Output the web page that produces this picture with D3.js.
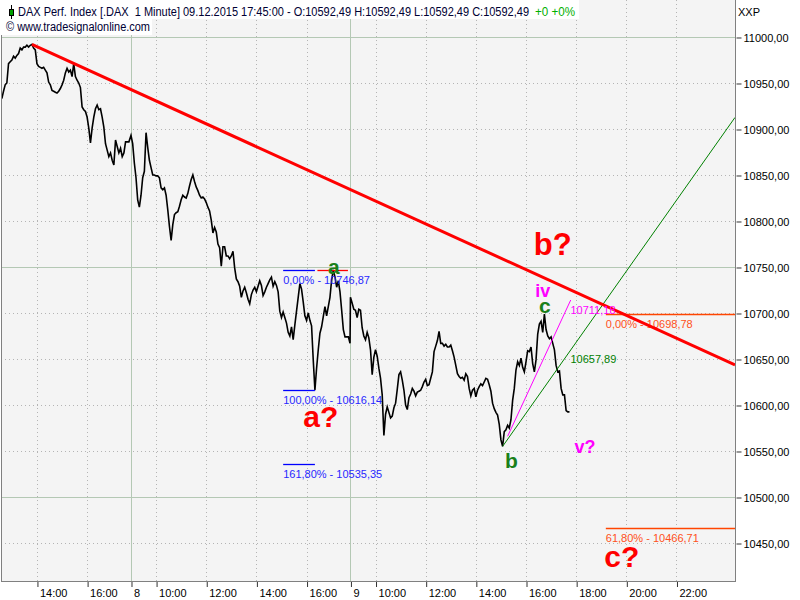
<!DOCTYPE html>
<html><head><meta charset="utf-8">
<script src="https://cdn.jsdelivr.net/npm/d3@7"></script>
<style>
body{margin:0;background:#fff}
svg{display:block}
text{font-family:"Liberation Sans",Arial,sans-serif}
</style>
</head><body><svg id="c" width="800" height="600"></svg>
<script>
// ---------- DATA ----------
const titleMain = "DAX Perf. Index [.DAX\u00a0\u00a01 Minute] 09.12.2015 17:45:00 - O:10592,49 H:10592,49 L:10592,49 C:10592,49";
const titleChange = "+0 +0%";
const copyright = "\u00a9 www.tradesignalonline.com";
const currencyLabel = "XXP";

const barMinutes = 4;
const day7Start = "07 12:36";
const day8Start = "08 09:00";
const day9Start = "09 09:00";
const day7Close = [10933,10941,10948,10950,10971,10973,10975,10979,10977,10980,10982,10988,10986,10989,10989,10991,10989,10991,10992,10988,10986,10971,10968,10967,10966,10967,10964,10961,10951,10948,10942,10941,10940,10939,10941,10944,10948,10953,10961,10966,10962,10964,10957,10971,10957,10953,10950,10945,10924,10921,10919,10913,10901,10885,10901,10913,10922,10926,10921,10922,10913,10902,10884,10877,10870,10874,10866,10861,10888,10881,10874,10879,10870,10874,10886,10886,10886];
const day8Close = [10893,10884,10863,10847,10823,10815,10828,10847,10854,10896,
10880,10866,10858,10850,10850,10849,10849,10847,10836,10834,
10836,10828,10812,10794,10779,10796,10807,10809,10810,10816,
10823,10828,10826,10825,10830,10838,10845,10850,10843,10837,
10833,10828,10825,10826,10824,10820,10815,10811,10801,10787,
10793,10788,10775,10771,10751,10772,10772,10762,10762,10759,
10762,10767,10749,10737,10734,10729,10717,10724,10728,10722,
10715,10710,10720,10725,10728,10723,10729,10735,10730,10719,
10723,10728,10732,10736,10739,10729,10734,10730,10723,10702,
10695,10701,10695,10689,10679,10675,10685,10671,10687,10702,
10717,10732,10726,10712,10697,10692,10700,10692,10686,10649,
10616.14,10640,10660,10678,10685,10696,10707,10697,10707,10717,
10736,10746.87,10739,10728,10735,10723,10703,10682,10674,10674,
10674,10667];
const day9Close = [10717,10711,10704,10703,10695,10704,10703,10684,10675,10671,
10679,10673,10660,10633,10652,10660,10653,10640,10629,10611,
10567,10590,10598,10592,10586,10588,10597,10602,10617,10633,
10636,10627,10616,10600,10595,10608,10612,10618,10615,10610,
10614,10615,10616,10620,10625,10628,10621,10622,10629,10636,
10658,10664,10670,10680,10667,10667,10664,10666,10663,10663,
10665,10659,10652,10643,10634,10631,10629,10630,10627,10634,
10631,10618,10610,10616,10618,10609,10616,10620,10623,10621,
10625,10629,10628,10622,10615,10602,10596,10592,10589,10579,
10562,10555,10571,10573,10578,10575,10584,10605,10618,10638,
10647,10643,10651,10641,10636,10647,10659,10658,10663,10645,
10636,10649,10677,10688,10691,10679,10698.78,10682,10675,10672,
10674,10667,10660,10643,10636,10637,10618,10611,10611,10594,
10592.49,10592.49];

const xDomain = ["07 12:34", "09 24:20"];
const yDomain = [10408.7, 11040.2];
const yTicks = [10450,10500,10550,10600,10650,10700,10750,10800,10850,10900,10950,11000];
const yMajor = [10500,10750,11000];
const xTicks = ["07 14:00","07 16:00","08 09:00","08 10:00","08 12:00","08 14:00","08 16:00","09 09:00","09 10:00","09 12:00","09 14:00","09 16:00","09 18:00","09 20:00","09 22:00"];
const xTickLabels = ["14:00","16:00","8","10:00","12:00","14:00","16:00","9","10:00","12:00","14:00","16:00","18:00","20:00","22:00"];
const daySeparators = ["08 09:00","09 09:00"];

const trendRed = [["07 13:48",10992],["09 17:00",10734.7]];
const trendGreen = [["09 15:04",10555],["09 17:44",10657.89]];
const trendMagenta = [["09 15:16",10566],["09 17:44",10711.18]];
const trendMagentaEnd = "09 17:47";
const greenLabel = "10657,89";
const magentaLabel = "10711,18";

const fibBluePct = ["0,00%","100,00%","161,80%"];
const fibBlueVal = [10746.87,10616.14,10535.35];
const fibBlueSpan = ["08 15:04","08 16:20"];
const waveAMarkSpan = ["08 16:26","08 17:39"];
const waveAMarkVal = 10746.87;

const fibOrangePct = ["0,00%","61,80%"];
const fibOrangeVal = [10698.78,10466.71];
const fibOrangeStart = "09 19:11";

const waveText  = ["b?","iv","c","b","v?","a?","a","c?"];
const waveTime  = ["09 17:04","09 16:40","09 16:45","09 15:25","09 18:21","08 16:34","08 17:05","09 19:49"];
const waveValue = [10763,10717,10700,10531,10548,10576,10742,10424];
const waveColor = ["#ff0000","#ff00ff","#1a801a","#1a801a","#ff00ff","#ff0000","#1a801a","#ff0000"];
const waveSize  = [31,18,21,21,18,30,21,30];

// ---------- HELPERS ----------
const SESSION_H = 8.75; // 09:00 - 17:45
function parseT(s){
  const [d, hm] = s.split(" ");
  const [h, m] = hm.split(":").map(Number);
  return (Number(d) - 7) * SESSION_H + (h + m/60 - 9);
}
const fmt = v => d3.format(".2f")(v).replace(".", ",");

// ---------- LAYOUT ----------
const svg = d3.select("#c");
const plot = {left:1, right:735, top:0, bottom:581};
const x = d3.scaleLinear().domain(xDomain.map(parseT)).range([plot.left, plot.right]);
const y = d3.scaleLinear().domain(yDomain).range([plot.bottom, plot.top]);

svg.append("rect").attr("width",800).attr("height",600).attr("fill","#fff");
svg.append("rect").attr("x",plot.left).attr("y",plot.top)
   .attr("width",plot.right-plot.left).attr("height",plot.bottom-plot.top).attr("fill","#f4f4f4");

svg.append("clipPath").attr("id","pc").append("rect")
  .attr("x",plot.left).attr("y",plot.top).attr("width",plot.right-plot.left).attr("height",plot.bottom-plot.top);

const g = svg.append("g").attr("clip-path","url(#pc)");

// grid
const gridDot = "#b4b4b4", gridSolid = "#b4c8b4";
g.selectAll(".hg").data(yTicks.filter(v => !yMajor.includes(v))).join("line")
  .attr("x1",plot.left).attr("x2",plot.right)
  .attr("y1",d=>Math.round(y(d))+0.5).attr("y2",d=>Math.round(y(d))+0.5)
  .attr("stroke",gridDot).attr("stroke-dasharray","1,3");
g.selectAll(".hm").data(yMajor).join("line")
  .attr("x1",plot.left).attr("x2",plot.right)
  .attr("y1",d=>Math.round(y(d))+0.5).attr("y2",d=>Math.round(y(d))+0.5)
  .attr("stroke",gridSolid);
g.selectAll(".vg").data(xTicks.filter(t => !daySeparators.includes(t))).join("line")
  .attr("x1",d=>Math.round(x(parseT(d)))+0.5).attr("x2",d=>Math.round(x(parseT(d)))+0.5)
  .attr("y1",plot.top).attr("y2",plot.bottom)
  .attr("stroke",gridDot).attr("stroke-dasharray","1,3");
g.selectAll(".vs").data(daySeparators).join("line")
  .attr("x1",d=>Math.round(x(parseT(d)))+0.5).attr("x2",d=>Math.round(x(parseT(d)))+0.5)
  .attr("y1",plot.top).attr("y2",plot.bottom)
  .attr("stroke",gridSolid);

// price series
const series = [];
[[day7Start,day7Close],[day8Start,day8Close],[day9Start,day9Close]].forEach(([st, arr]) => {
  const t0 = parseT(st);
  arr.forEach((v,i) => series.push([t0 + i*barMinutes/60, v]));
});
g.append("path").datum(series)
  .attr("d", d3.line().x(d=>x(d[0])).y(d=>y(d[1])))
  .attr("fill","none").attr("stroke","#000").attr("stroke-width",1.6).attr("stroke-linejoin","miter");

// trend lines
function lineThrough(pts, tEnd){
  const t1 = parseT(pts[0][0]), v1 = pts[0][1];
  const t2 = parseT(pts[1][0]), v2 = pts[1][1];
  const slope = (v2 - v1)/(t2 - t1);
  return [[t1, v1],[tEnd, v1 + slope*(tEnd - t1)]];
}
const tMax = x.domain()[1];
const lineGen = d3.line().x(d=>x(d[0])).y(d=>y(d[1]));
g.append("path").datum(lineThrough(trendGreen, tMax)).attr("d",lineGen)
  .attr("stroke","#008000").attr("stroke-width",1).attr("fill","none");
g.append("path").datum(lineThrough(trendMagenta, parseT(trendMagentaEnd))).attr("d",lineGen)
  .attr("stroke","#ff00ff").attr("stroke-width",1).attr("fill","none");

// fib blue
fibBlueVal.forEach((v,i) => {
  const yy = Math.round(y(v)) + 0.5;
  g.append("line").attr("x1",x(parseT(fibBlueSpan[0]))).attr("x2",x(parseT(fibBlueSpan[1])))
    .attr("y1",yy).attr("y2",yy).attr("stroke","#0000ff").attr("stroke-width",1.3);
  g.append("text").attr("x",x(parseT(fibBlueSpan[0]))).attr("y",yy+13)
    .attr("font-size",11).attr("fill","#2828ff").text(fibBluePct[i] + " - " + fmt(v));
});
// a mark red
{
  const yy = Math.round(y(waveAMarkVal)) + 0.5;
  g.append("line").attr("x1",x(parseT(waveAMarkSpan[0]))).attr("x2",x(parseT(waveAMarkSpan[1])))
    .attr("y1",yy).attr("y2",yy).attr("stroke","#ff0000").attr("stroke-width",1.3);
}
// fib orange
fibOrangeVal.forEach((v,i) => {
  const yy = Math.round(y(v)) + 0.5;
  g.append("line").attr("x1",x(parseT(fibOrangeStart))).attr("x2",plot.right)
    .attr("y1",yy).attr("y2",yy).attr("stroke","#ff4500").attr("stroke-width",1.3);
  g.append("text").attr("x",x(parseT(fibOrangeStart))).attr("y",yy+13)
    .attr("font-size",11).attr("fill","#ff5020").text(fibOrangePct[i] + " - " + fmt(v));
});

// red trend line (on top)
g.append("path").datum(lineThrough(trendRed, tMax)).attr("d",lineGen)
  .attr("stroke","#ff0000").attr("stroke-width",3).attr("fill","none");

// value labels of lines
{
  const tL = parseT(trendGreen[1][0]);
  g.append("text").attr("x",x(tL)+1).attr("y",y(trendGreen[1][1])+11)
    .attr("font-size",11).attr("fill","#008000").text(greenLabel);
  g.append("text").attr("x",x(tL)+1).attr("y",y(trendMagenta[1][1])+11)
    .attr("font-size",11).attr("fill","#ff00ff").text(magentaLabel);
}

// wave labels
waveText.forEach((t,i) => {
  g.append("text").attr("x",x(parseT(waveTime[i]))).attr("y",y(waveValue[i]))
    .attr("text-anchor","middle").attr("font-family","'DejaVu Sans',Verdana,sans-serif")
    .attr("font-weight","bold").attr("font-size",waveSize[i]).attr("fill",waveColor[i]).text(t);
});

// plot border
svg.append("line").attr("x1",plot.left+0.5).attr("x2",plot.left+0.5).attr("y1",plot.top).attr("y2",plot.bottom)
  .attr("stroke","#808080");
svg.append("line").attr("x1",plot.right+0.5).attr("x2",plot.right+0.5).attr("y1",plot.top).attr("y2",plot.bottom+1)
  .attr("stroke","#808080");
svg.append("line").attr("x1",plot.left).attr("x2",plot.right+1).attr("y1",plot.bottom+0.5).attr("y2",plot.bottom+0.5)
  .attr("stroke","#808080");

// y axis
const ya = svg.append("g").attr("transform",`translate(${plot.right+1.5},0.5)`)
  .call(d3.axisRight(y).tickValues(yTicks).tickFormat(fmt).tickSize(5).tickPadding(2));
ya.select(".domain").remove();
ya.selectAll("line").attr("stroke","#333");
ya.selectAll("text").attr("font-size",11).attr("font-family","'Liberation Sans',Arial,sans-serif").attr("fill","#000");

// x axis
const xa = svg.append("g").attr("transform",`translate(0.5,${plot.bottom+1})`)
  .call(d3.axisBottom(x).tickValues(xTicks.map(parseT)).tickFormat((d,i)=>xTickLabels[i]).tickSize(5));
xa.select(".domain").remove();
xa.selectAll("line").attr("stroke","#333");
xa.selectAll("text").attr("font-size",11).attr("font-family","'Liberation Sans',Arial,sans-serif")
  .attr("fill","#000").attr("text-anchor","start").attr("x",2).attr("y",15).attr("dy",0);

// header
svg.append("rect").attr("x",0).attr("y",0).attr("width",579).attr("height",19).attr("fill","#fff");
svg.append("rect").attr("x",0).attr("y",19).attr("width",152).attr("height",16).attr("fill","#fff");
svg.append("line").attr("x1",11.5).attr("x2",11.5).attr("y1",5).attr("y2",19).attr("stroke","#000");
svg.append("rect").attr("x",9.5).attr("y",9.5).attr("width",4).attr("height",6).attr("fill","#00a000").attr("stroke","#000");
svg.append("text").attr("x",18).attr("y",16).attr("font-size",12).attr("fill","#000033")
  .attr("textLength",511).attr("lengthAdjust","spacingAndGlyphs").text(titleMain);
svg.append("text").attr("x",535).attr("y",16).attr("font-size",12).attr("fill","#00b000")
  .attr("textLength",40).attr("lengthAdjust","spacingAndGlyphs").text(titleChange);
svg.append("text").attr("x",6).attr("y",31).attr("font-size",12).attr("fill","#000033")
  .attr("textLength",144).attr("lengthAdjust","spacingAndGlyphs").text(copyright);
svg.append("text").attr("x",738).attr("y",16).attr("font-size",11).attr("fill","#000").text(currencyLabel);
</script>
</body></html>
